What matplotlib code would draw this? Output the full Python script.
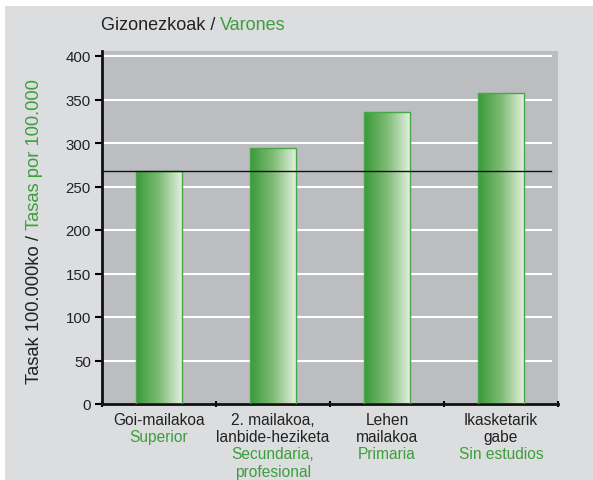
import numpy as np
import matplotlib
matplotlib.use("Agg")
import matplotlib.pyplot as plt
from matplotlib.colors import LinearSegmentedColormap
from matplotlib.patches import Rectangle

plt.rcParams['font.family'] = ['Liberation Sans', 'DejaVu Sans']

# ---- data ----
labels_eu = [["Goi-mailakoa"], ["2. mailakoa,", "lanbide-heziketa"], ["Lehen", "mailakoa"], ["Ikasketarik", "gabe"]]
labels_es = [["Superior"], ["Secundaria,", "profesional"], ["Primaria"], ["Sin estudios"]]
values = [268, 294, 336, 358]
reference = 268
yticks = [0, 50, 100, 150, 200, 250, 300, 350, 400]
title_eu = "Gizonezkoak / "
title_es = "Varones"
ylabel_eu = "Tasak 100.000ko / "
ylabel_es = "Tasas por 100.000"

DARK = "#222222"
GREEN = "#3c9f3c"
FIG_BG = "#dcdddf"
AX_BG = "#bcbdc1"

W, H = 593, 481
fig = plt.figure(figsize=(W / 100, H / 100), dpi=100, facecolor="white")
# grey panel leaving a white strip at top and left
fig.patches.append(Rectangle((5 / W, 0), 1.0, 1 - 7 / H, transform=fig.transFigure,
                             facecolor=FIG_BG, edgecolor="none", zorder=-10))

ax = fig.add_axes([102 / W, 1 - 405 / H, (558 - 102) / W, (405 - 52) / H])
ax.set_facecolor(AX_BG)

n = len(values)
x = np.arange(n)
ax.set_xlim(-0.5, n - 0.5)
ymax = 400 + 5 * 400 / 348
ax.set_ylim(0, ymax)

# gridlines
for t in yticks[1:]:
    ax.axhline(t, xmin=0, xmax=(551 - 102) / 456, color="white", lw=1.5, zorder=1)

# bars with gradient
cmap = LinearSegmentedColormap.from_list("g", ["#3a9a3a", "#7dbb74", "#e2f0de"])
grad = np.linspace(0, 1, 256).reshape(1, -1)
bw = 0.4
bars = ax.bar(x, values, width=bw, color="none", edgecolor="#46a846", lw=1.0, zorder=3)
for b in bars:
    x0, y0 = b.get_x(), b.get_y()
    w, h = b.get_width(), b.get_height()
    im = ax.imshow(grad, extent=[x0, x0 + w, y0, y0 + h], aspect="auto", cmap=cmap, zorder=2)
    im.set_clip_path(b)

# reference line
ax.axhline(reference, xmin=0, xmax=(551 - 102) / 456, color="#111111", lw=1.0, zorder=4)

# spines and ticks
for s in ["top", "right"]:
    ax.spines[s].set_visible(False)
ax.spines["left"].set_linewidth(2)
ax.spines["bottom"].set_linewidth(2)
ax.spines["left"].set_color("#111111")
ax.spines["bottom"].set_color("#111111")
ax.set_yticks(yticks)
ax.set_yticklabels([str(t) for t in yticks], fontsize=10.8, color=DARK)
ax.tick_params(axis="y", length=5, width=1.5, pad=3)
ax.set_xticks(np.arange(n + 1) - 0.5)
ax.set_xticklabels([])
ax.tick_params(axis="x", length=5, width=1.5, direction="inout")

# category labels
line_h = 17.2
for i in range(n):
    lines = [(l, DARK) for l in labels_eu[i]] + [(l, GREEN) for l in labels_es[i]]
    for j, (txt, col) in enumerate(lines):
        ax.annotate(txt, xy=(x[i], 0), xycoords=("data", "axes fraction"),
                    xytext=(0, -(15.5 + j * line_h) * 72 / 100), textcoords="offset points",
                    ha="center", va="center", fontsize=11.2, color=col)

# title in two colours
fig.canvas.draw()
r = fig.canvas.get_renderer()
t1 = fig.text(101 / W, 1 - 25 / H, title_eu, fontsize=13, color=DARK, ha="left", va="center")
bb = t1.get_window_extent(r)
fig.text(bb.x1 / W, 1 - 25 / H, title_es, fontsize=13, color=GREEN, ha="left", va="center")

# y label in two colours, centred as a whole
yl_fs = 13.2
y1 = fig.text(35 / W, 0.5, ylabel_eu, fontsize=yl_fs, color=DARK, rotation=90,
              ha="center", va="bottom")
y2 = fig.text(35 / W, 0.5, ylabel_es, fontsize=yl_fs, color=GREEN, rotation=90,
              ha="center", va="bottom")
h1 = y1.get_window_extent(r).height
h2 = y2.get_window_extent(r).height
centre = H - 231.5
start = centre - (h1 + h2) / 2
y1.set_position((35 / W, start / H))
y2.set_position((35 / W, (start + h1) / H))

fig.savefig("out.png", dpi=100, facecolor="white")
